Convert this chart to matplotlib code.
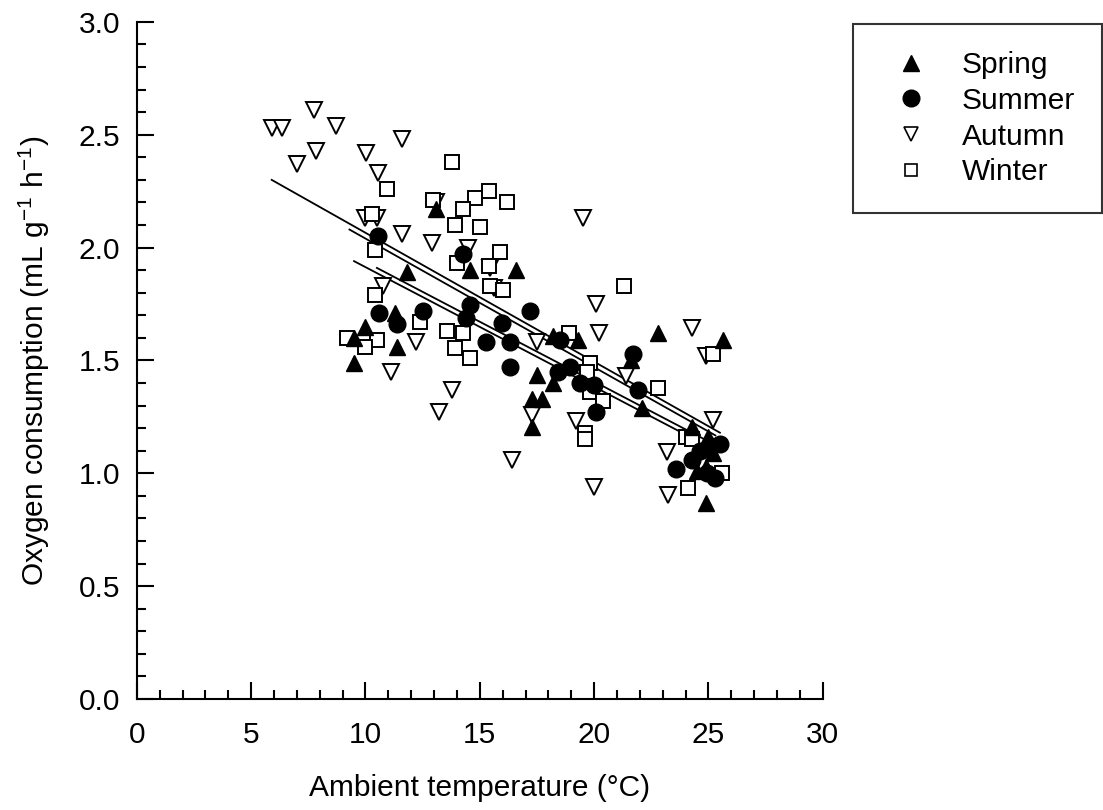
import numpy as np
import matplotlib
matplotlib.use('Agg')
import matplotlib.pyplot as plt
from matplotlib.lines import Line2D

plt.rcParams['font.family'] = ['Liberation Sans', 'DejaVu Sans']
plt.rcParams['mathtext.default'] = 'regular'

# ambient temperature (C), oxygen consumption (mL g-1 h-1)
SPRING_X = [13.1, 14.55, 16.6, 11.8, 11.3, 10.0, 9.5, 18.2, 19.3, 9.5, 11.4,
            17.5, 17.3, 17.7, 17.3, 18.2, 22.8, 25.65, 21.6, 22.1, 24.3, 25.0,
            25.2, 24.9, 24.5, 24.9]
SPRING_Y = [2.17, 1.90, 1.90, 1.89, 1.71, 1.65, 1.60, 1.61, 1.59, 1.49, 1.56,
            1.435, 1.33, 1.33, 1.205, 1.40, 1.62, 1.59, 1.50, 1.29, 1.205, 1.16,
            1.09, 1.03, 1.01, 0.87]

SUMMER_X = [10.57, 14.25, 10.6, 11.4, 12.5, 14.56, 14.4, 17.2, 15.96, 18.5,
            15.25, 16.3, 16.3, 18.4, 18.95, 19.4, 20.0, 20.1, 21.7, 21.9,
            25.5, 25.1, 24.65, 24.3, 23.6, 25.3, 24.95]
SUMMER_Y = [2.05, 1.97, 1.71, 1.66, 1.72, 1.745, 1.69, 1.72, 1.665, 1.59,
            1.58, 1.58, 1.47, 1.45, 1.47, 1.40, 1.39, 1.27, 1.53, 1.37,
            1.13, 1.12, 1.10, 1.06, 1.02, 0.98, 1.00]

AUTUMN_X = [5.92, 6.36, 7.76, 8.73, 7.85, 7.02, 10.04, 10.53, 11.6, 13.1,
            10.0, 10.5, 11.6, 12.9, 19.5, 14.5, 15.45, 15.6, 10.75, 17.5,
            12.2, 11.1, 13.8, 13.2, 16.4, 17.3, 19.2, 20.0, 20.1, 20.2,
            24.3, 24.9, 21.4, 25.2, 23.2, 23.25]
AUTUMN_Y = [2.53, 2.53, 2.61, 2.54, 2.43, 2.37, 2.42, 2.33, 2.48, 2.20,
            2.13, 2.13, 2.06, 2.02, 2.13, 2.00, 1.91, 1.82, 1.83, 1.58,
            1.58, 1.45, 1.37, 1.27, 1.06, 1.26, 1.23, 0.94, 1.75, 1.62,
            1.645, 1.52, 1.43, 1.235, 1.095, 0.905]

WINTER_X = [10.96, 13.8, 12.94, 15.4, 14.8, 14.25, 16.2, 13.9, 15.0, 10.3,
            10.4, 14.0, 15.9, 15.4, 15.45, 16.0, 10.4, 12.4, 13.55, 14.25,
            9.2, 10.5, 9.96, 18.9, 13.9, 14.56, 19.6, 19.6, 21.3, 25.2,
            22.8, 19.8, 19.7, 19.8, 20.4, 24.0, 24.3, 25.6, 24.1]
WINTER_Y = [2.26, 2.38, 2.21, 2.25, 2.22, 2.17, 2.20, 2.10, 2.09, 2.15,
            1.99, 1.93, 1.98, 1.92, 1.83, 1.81, 1.79, 1.67, 1.63, 1.62,
            1.60, 1.59, 1.56, 1.62, 1.555, 1.51, 1.18, 1.15, 1.83, 1.53,
            1.38, 1.49, 1.45, 1.36, 1.32, 1.16, 1.15, 1.00, 0.935]

# regression line end points (x start, x end, y start, y end)
FIT_X0 = [5.9, 9.3, 9.5, 10.5]
FIT_X1 = [25.5, 25.3, 24.5, 24.8]
FIT_Y0 = [2.30, 2.08, 1.94, 1.91]
FIT_Y1 = [1.18, 1.168, 1.145, 1.152]

FS = 21.5

fig = plt.figure(figsize=(11.03, 8.10), dpi=100)
ax = fig.add_axes([0.124, 0.137, 0.622, 0.836])

for i in range(len(FIT_X0)):
    ax.plot([FIT_X0[i], FIT_X1[i]], [FIT_Y0[i], FIT_Y1[i]], color='black', lw=1.3, zorder=1)

ax.plot(AUTUMN_X, AUTUMN_Y, 'v', ms=12, mfc='white', mec='black', mew=1.4, ls='none', zorder=2)
ax.plot(WINTER_X, WINTER_Y, 's', ms=10.5, mfc='white', mec='black', mew=1.4, ls='none', zorder=2)
ax.plot(SPRING_X, SPRING_Y, '^', ms=12, mfc='black', mec='black', ls='none', zorder=3)
ax.plot(SUMMER_X, SUMMER_Y, 'o', ms=12, mfc='black', mec='black', ls='none', zorder=3)

ax.set_xlim(0, 30)
ax.set_ylim(0, 3.0)
ax.set_xticks(np.arange(0, 31, 5))
ax.set_xticks(np.arange(0, 31, 1), minor=True)
ax.set_yticks(np.arange(0, 3.01, 0.5))
ax.set_yticks(np.arange(0, 3.01, 0.1), minor=True)
ax.set_yticklabels(['0.0', '0.5', '1.0', '1.5', '2.0', '2.5', '3.0'])
ax.tick_params(which='both', direction='in', width=1.5, labelsize=FS)
ax.tick_params(which='major', length=12)
ax.tick_params(which='minor', length=6.5)
ax.tick_params(axis='x', pad=16)
ax.tick_params(axis='y', pad=12)
for s in ['top', 'right']:
    ax.spines[s].set_visible(False)
for s in ['left', 'bottom']:
    ax.spines[s].set_linewidth(1.5)

ax.set_xlabel('Ambient temperature (°C)', fontsize=FS, labelpad=18)
ax.set_ylabel('Oxygen consumption (mL g$^{-1}$ h$^{-1}$)', fontsize=FS, labelpad=19)

handles = [
    Line2D([], [], marker='^', ms=12, mfc='black', mec='black', ls='none'),
    Line2D([], [], marker='o', ms=12, mfc='black', mec='black', ls='none'),
    Line2D([], [], marker='v', ms=9.5, mfc='white', mec='black', mew=1.2, ls='none'),
    Line2D([], [], marker='s', ms=8.5, mfc='white', mec='black', mew=1.2, ls='none'),
]
leg = fig.legend(handles, ['Spring', 'Summer', 'Autumn', 'Winter'],
                 loc='upper left', bbox_to_anchor=(0.773, 0.970), fontsize=FS,
                 frameon=True, fancybox=False, edgecolor='black',
                 borderpad=0.9, labelspacing=0.26, handlelength=2.1,
                 handletextpad=0.65, borderaxespad=0)
leg.get_frame().set_linewidth(1.5)
leg.get_frame().set_boxstyle('square', pad=0)

fig.savefig('out.png', dpi=100)
